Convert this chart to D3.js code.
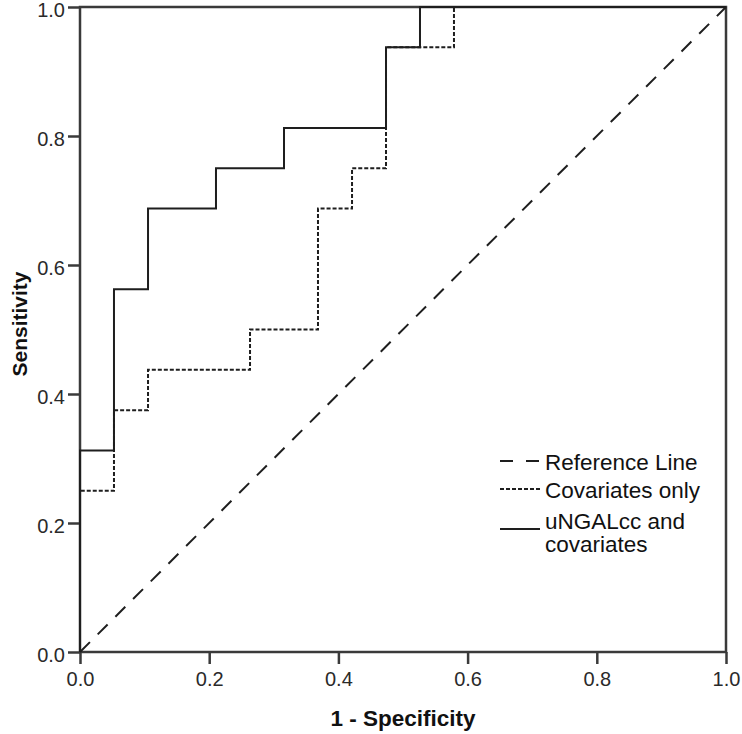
<!DOCTYPE html>
<html><head><meta charset="utf-8">
<script src="https://d3js.org/d3.v7.min.js"></script>
<style>body{margin:0;background:#fff}</style>
</head><body>
<script>
// Data (x = 1 - Specificity, y = Sensitivity)
const ungalX = [0, 0, 0.0526, 0.0526, 0.1053, 0.1053, 0.2105, 0.2105, 0.3158, 0.3158, 0.4737, 0.4737, 0.5263, 0.5263, 1.0];
const ungalY = [0, 0.3125, 0.3125, 0.5625, 0.5625, 0.6875, 0.6875, 0.75, 0.75, 0.8125, 0.8125, 0.9375, 0.9375, 1.0, 1.0];
const covX = [0, 0, 0.0526, 0.0526, 0.1053, 0.1053, 0.2632, 0.2632, 0.3684, 0.3684, 0.4211, 0.4211, 0.4737, 0.4737, 0.5789, 0.5789, 1.0];
const covY = [0, 0.25, 0.25, 0.375, 0.375, 0.4375, 0.4375, 0.5, 0.5, 0.6875, 0.6875, 0.75, 0.75, 0.9375, 0.9375, 1.0, 1.0];
const refX = [0, 1];
const refY = [0, 1];
const tickValues = [0, 0.2, 0.4, 0.6, 0.8, 1.0];
const legendLabels = ["Reference Line", "Covariates only", ["uNGALcc and", "covariates"]];

const W = 742, H = 734;
const FONT = "Arial, 'Liberation Sans', sans-serif";
const svg = d3.select("body").append("svg").attr("width", W).attr("height", H)
  .style("font-family", FONT);

const x = d3.scaleLinear().domain([0, 1]).range([80, 726]);
const y = d3.scaleLinear().domain([0, 1]).range([652, 7]);
const axisColor = "#3a3a3a";
const lineColor = "#1e1e1e";

// frame
svg.append("rect").attr("x", x(0)).attr("y", y(1)).attr("width", x(1) - x(0)).attr("height", y(0) - y(1))
  .attr("fill", "none").attr("stroke", axisColor).attr("stroke-width", 2.5);

const xAxis = svg.append("g").attr("transform", `translate(0,${y(0)})`)
  .call(d3.axisBottom(x).tickValues(tickValues).tickFormat(d3.format(".1f")).tickSize(12).tickPadding(8));
const yAxis = svg.append("g").attr("transform", `translate(${x(0)},0)`)
  .call(d3.axisLeft(y).tickValues(tickValues).tickFormat(d3.format(".1f")).tickSize(12).tickPadding(3));
[xAxis, yAxis].forEach(g => {
  g.select(".domain").remove();
  g.selectAll("line").attr("stroke", axisColor).attr("stroke-width", 2.5);
  g.selectAll("text").attr("fill", "#2a2a2a").style("font-size", "20px").style("font-family", FONT);
});
yAxis.selectAll("text").attr("transform", "translate(0,3)");

const line = d3.line().x(d => x(d[0])).y(d => y(d[1]));
const zip = (a, b) => a.map((v, i) => [v, b[i]]);

svg.append("path").datum(zip(refX, refY)).attr("d", line)
  .attr("fill", "none").attr("stroke", lineColor).attr("stroke-width", 2).attr("stroke-dasharray", "14,11");
svg.append("path").datum(zip(covX, covY)).attr("d", line)
  .attr("fill", "none").attr("stroke", lineColor).attr("stroke-width", 2).attr("stroke-dasharray", "4,2");
svg.append("path").datum(zip(ungalX, ungalY)).attr("d", line)
  .attr("fill", "none").attr("stroke", lineColor).attr("stroke-width", 2);

// axis titles
svg.append("text").attr("x", (x(0) + x(1)) / 2).attr("y", 726).attr("text-anchor", "middle")
  .style("font-size", "22.5px").style("font-weight", "bold").attr("fill", "#111").text("1 - Specificity");
svg.append("text").attr("transform", `translate(27,324) rotate(-90)`).attr("text-anchor", "middle")
  .style("font-size", "21px").style("font-weight", "bold").attr("fill", "#111").text("Sensitivity");

// legend
const lg = svg.append("g");
const lx0 = 500, lx1 = 540, tx = 545;
const baselines = [470, 498, 529];
const lineYs = [461, 489, 529];
const dashes = ["13,13", "4,2", null];
legendLabels.forEach((lab, i) => {
  const l = lg.append("line").attr("x1", lx0).attr("x2", lx1).attr("y1", lineYs[i]).attr("y2", lineYs[i])
    .attr("stroke", lineColor).attr("stroke-width", 2);
  if (dashes[i]) l.attr("stroke-dasharray", dashes[i]);
  const t = lg.append("text").attr("x", tx).attr("y", baselines[i]).style("font-size", "22.5px").attr("fill", "#111");
  if (Array.isArray(lab)) {
    lab.forEach((s, j) => t.append("tspan").attr("x", tx).attr("dy", j === 0 ? 0 : 23).text(s));
  } else t.text(lab);
});
</script>
</body></html>
